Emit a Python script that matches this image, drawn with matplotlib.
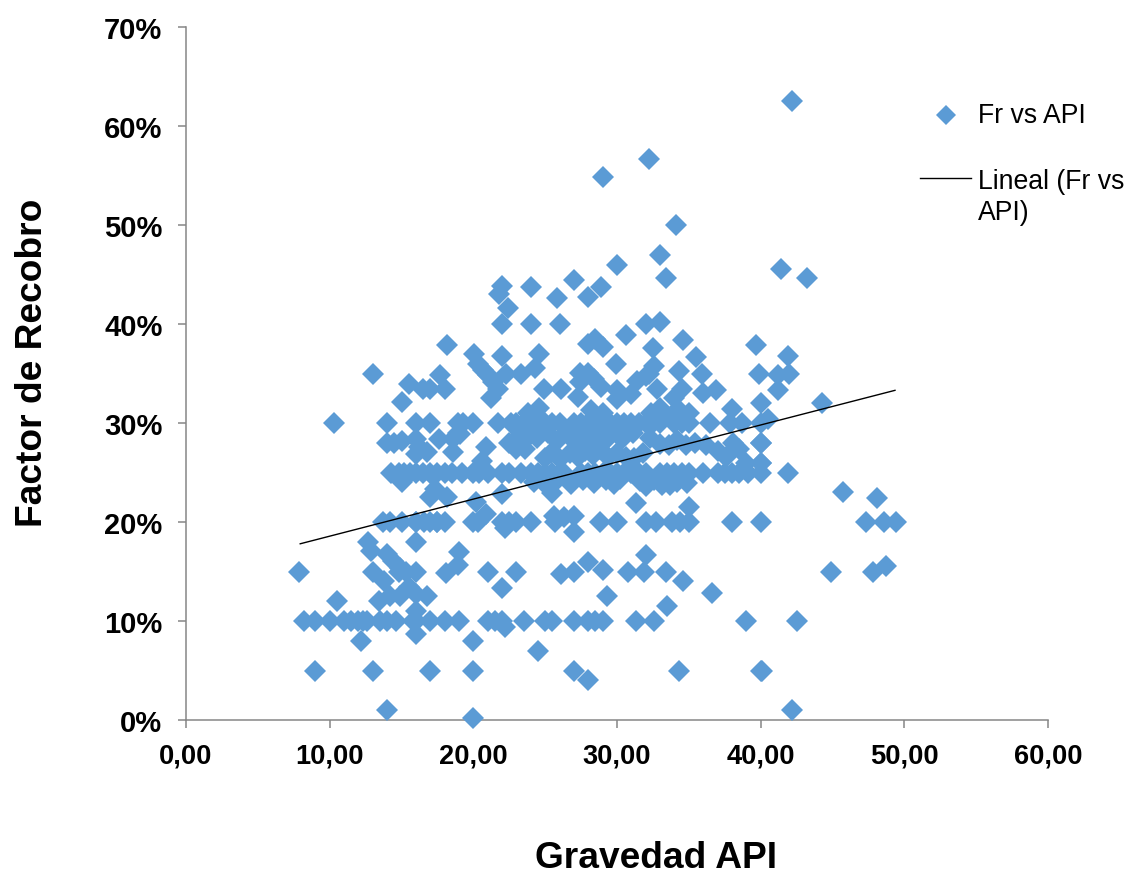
import numpy as np
import matplotlib
matplotlib.use("Agg")
import matplotlib.pyplot as plt
from matplotlib.lines import Line2D

plt.rcParams["font.family"] = ["Liberation Sans", "DejaVu Sans"]

W, H = 1135, 879
BLUE = "#5B9BD5"
GRAY = "#868686"

# points sitting on the round recovery factors, API only
api_at_10 = [8.2, 9, 10, 11, 11.5, 12, 12.3, 12.6, 13.5, 14, 14.6, 15.8, 16, 17, 18, 19,
             21, 21.5, 22, 23.5, 25, 25.5, 27, 28, 28.5, 29, 31.3, 32.6, 39, 42.5]
api_at_20 = [13.7, 14.2, 15, 16, 16.6, 17, 17.5, 18, 20, 20.3, 22, 22.5, 23, 24, 25.7, 28.8,
             30, 32, 32.7, 33.8, 34.4, 35, 38, 40, 47.3, 48.6, 49.4]
api_at_25 = [14.3, 14.8, 15.2, 15.6, 16, 16.5, 17, 17.5, 18, 18.5, 19.2, 20, 20.4, 21, 22,
             22.5, 23.3, 24, 24.5, 25, 25.5, 26, 26.3, 27.5, 28, 28.5, 29, 29.5, 30, 30.5,
             31, 31.5, 32, 33, 33.5, 34, 34.5, 35, 36, 37, 37.5, 38, 38.5, 39.1, 40, 41.9]
api_at_30 = [10.3, 14, 16, 17, 18.9, 19.3, 20, 21.7, 22.6, 23, 23.5, 24, 24.5, 25, 25.5, 26,
             27, 27.5, 28, 28.5, 29, 29.5, 30, 30.5, 31, 31.5, 32, 32.5, 33, 34, 34.5, 35,
             36.5, 37.9, 38.7, 40]
api_at_05 = [9, 13, 17, 20, 27, 34.3, 40, 40.1]

# upper part of the cloud
api_upper = [42.2, 32.2, 29, 34.1, 33, 30, 33.4, 41.4, 43.2, 27, 28.9, 24, 22, 21.8, 28, 25.8,
             22.4, 22, 24, 26, 32, 33, 30.6, 28, 28.5, 29, 34.6, 39.7, 18.2, 20.05, 22, 24.6,
             32.5, 35.5, 41.9, 29.9, 20.3, 13, 24.3, 22.3, 23.3, 20.7, 21, 21.4, 21.7, 21.2,
             17.7, 15.5, 16.5, 17, 18, 15, 24.9, 26.1, 39.9, 41.2, 42, 41.2, 44.3, 40, 38, 40.5,
             32.6, 32.2, 34.3, 35.9, 27.4, 28, 28.4, 28.9, 27.4, 31.4, 32, 30, 31, 30, 27.3,
             32.8, 34.5, 36, 36.9]
fr_upper = [62.5, 56.7, 54.8, 50, 47, 46, 44.6, 45.6, 44.6, 44.4, 43.7, 43.7, 43.8, 43, 42.7, 42.6,
            41.6, 40, 40, 40, 40, 40.2, 38.9, 38, 38.5, 37.7, 38.4, 37.9, 37.9, 37, 36.8, 37,
            37.6, 36.7, 36.8, 36, 36, 35, 35.6, 35, 35, 35.4, 34.8, 34.1, 33.4, 32.5,
            34.8, 33.9, 33.4, 33.4, 33.4, 32.1, 33.4, 33.4, 35, 34.8, 34.9, 33.3, 32, 32, 31.4, 30.4,
            35.8, 35, 35.3, 35, 35.1, 35.1, 34.4, 33.6, 34.1, 34.2, 34.7, 33.3, 32.9, 32.4, 32.6,
            33.4, 33.4, 33, 33.3]

# dense band between 26 and 29 on the left, plus the row at 28 on the right
api_band = [14, 14.5, 15, 16, 16.2, 16, 16.8, 17.6, 18.6, 18.9, 19.1, 18.6, 20.9, 20.6, 22.5,
            23.2, 23, 23.6, 23.9, 24.4, 25.2, 25.8, 26.6, 27.2, 27.6, 28.2, 28.7, 29.3, 29.9,
            30.4, 31.1, 25, 25.4, 26, 26.7, 27.3, 27.8, 28.3, 28.8, 29.4, 30, 30.6, 31.2, 31.8,
            32.3, 33, 33.6, 34.2, 34.8, 35.4, 36.2, 37, 37.6, 38.1, 38.5, 39, 40, 40]
fr_band = [28, 28, 28.2, 28.4, 27.6, 26.9, 27.1, 28.4, 28.4, 29, 28.9, 27.1, 27.6, 26.2, 28,
           28.7, 27.4, 27.4, 28.7, 28.5, 29, 28.2, 28.8, 28.2, 28.8, 28.2, 29, 28.4, 29,
           28.5, 29, 26.5, 27, 26.4, 27, 26.6, 27.2, 26.8, 27.4, 26.6, 27, 26.6, 26.5, 27,
           28.5, 27.9, 27.8, 28.3, 27.8, 28, 27.8, 27.2, 26.6, 28, 27.4, 26, 28, 26]

# row just under 25, and the patch above 30 on the right
api_under = [15, 17.3, 17, 18.2, 20.2, 22, 20.9, 25.5, 25.6, 27, 27, 40, 40, 45.7, 35, 31.3,
             24.2, 25.1, 25.8, 26.8, 27.6, 28.4, 29.2, 29.8, 30.2, 31.6, 32, 32.6, 33.1, 33.7,
             34.2, 34.9, 23.8, 24.6, 29, 33, 34, 28.2, 32.4, 33.8, 34.3, 35,
             26.3, 22.2, 16, 17.5]
fr_under = [24, 23.3, 22.5, 22.5, 22, 22.8, 20.8, 22.9, 20.6, 20.6, 19, 28, 26, 23, 21.5, 21.9,
            24, 23.6, 24.2, 23.8, 24.2, 23.9, 24.2, 23.8, 24.3, 24.1, 23.6, 24.2, 23.7, 23.7,
            24, 23.9, 31, 31.5, 31, 31.5, 32.5, 31.3, 31, 30.8, 31.3, 31,
            20.5, 19.4, 20, 20]

# below the 20% row
api_lower = [12.7, 12.9, 16, 14, 14.4, 14.9, 13, 13.8, 16, 14.8, 15.3, 18.1, 18.9, 19, 21, 23, 22,
             13.4, 14.2, 14.9, 15.5, 16, 16.8, 16, 16, 22.2, 7.9, 10.5, 12.2, 20, 24.5, 14, 42.2,
             20, 28, 26.1, 27, 28, 29, 29.3, 30.8, 31.9, 32, 33.4, 33.5, 34.6, 36.6, 44.9, 47.8,
             48.7, 48.1]
fr_lower = [18, 17.1, 18, 16.8, 16.1, 15.4, 15, 14, 15, 15, 15, 14.8, 15.7, 17, 15, 15, 13.3,
            12, 12.5, 12.5, 13.4, 12.7, 12.5, 11, 8.7, 9.4, 14.9, 12, 8, 8, 7, 1, 1,
            0.2, 4, 14.7, 15, 16, 15.2, 12.5, 15, 15, 16.7, 15, 11.5, 14, 12.8, 14.9, 15,
            15.6, 22.4]

trend_api = [7.95, 49.35]
trend_fr = [17.8, 33.3]

x_ticks = [0, 10, 20, 30, 40, 50, 60]
x_tick_labels = ["0,00", "10,00", "20,00", "30,00", "40,00", "50,00", "60,00"]
y_ticks = [0, 10, 20, 30, 40, 50, 60, 70]
y_tick_labels = ["0%", "10%", "20%", "30%", "40%", "50%", "60%", "70%"]

api = np.concatenate([api_at_10, api_at_20, api_at_25, api_at_30, api_at_05,
                      api_upper, api_band, api_under, api_lower])
fr = np.concatenate([np.full(len(api_at_10), 10.0), np.full(len(api_at_20), 20.0),
                     np.full(len(api_at_25), 25.0), np.full(len(api_at_30), 30.0),
                     np.full(len(api_at_05), 5.0), fr_upper, fr_band, fr_under, fr_lower])

fig = plt.figure(figsize=(W / 100, H / 100), dpi=100)
ax = fig.add_axes([186 / W, 1 - 721 / H, (1048 - 186) / W, (721 - 28) / H])

ax.plot(api, fr, ls="none", marker="D", ms=11.2, mfc=BLUE, mec=BLUE, mew=0, clip_on=False, zorder=3)
ax.plot(trend_api, trend_fr, color="black", lw=1.0, zorder=4)

ax.set_xlim(0, 60)
ax.set_ylim(0, 70)
ax.set_xticks(x_ticks, x_tick_labels)
ax.set_yticks(y_ticks, y_tick_labels)
ax.tick_params(length=6, width=1.1, color=GRAY)
ax.tick_params(axis="x", labelsize=19.6, pad=10)
ax.tick_params(axis="y", labelsize=21, pad=11)
for lab in ax.get_xticklabels() + ax.get_yticklabels():
    lab.set_fontweight("bold")
ax.spines["top"].set_visible(False)
ax.spines["right"].set_visible(False)
ax.spines["left"].set_color(GRAY)
ax.spines["bottom"].set_color(GRAY)
ax.spines["left"].set_linewidth(1.1)
ax.spines["bottom"].set_linewidth(1.1)

# axis titles
fig.text(656 / W, 1 - 859 / H, "Gravedad API", fontsize=26.7, fontweight="bold", ha="center", va="center")
fig.text(33 / W, 1 - 363 / H, "Factor de Recobro", fontsize=26.7, fontweight="bold", rotation=90,
         ha="center", va="center")

# legend, by hand to keep Excel's layout
fig.add_artist(Line2D([946 / W], [1 - 116 / H], marker="D", ms=10, mfc=BLUE, mew=0, ls="none"))
fig.add_artist(Line2D([920 / W, 971 / W], [1 - 179 / H] * 2, color="black", lw=1.0))
fig.text(978 / W, 1 - 116 / H, "Fr vs API", fontsize=19.2, ha="left", va="center")
fig.text(978 / W, 1 - 182 / H, "Lineal (Fr vs", fontsize=19.2, ha="left", va="center")
fig.text(978 / W, 1 - 213 / H, "API)", fontsize=19.2, ha="left", va="center")

fig.savefig("out.png", dpi=100)
